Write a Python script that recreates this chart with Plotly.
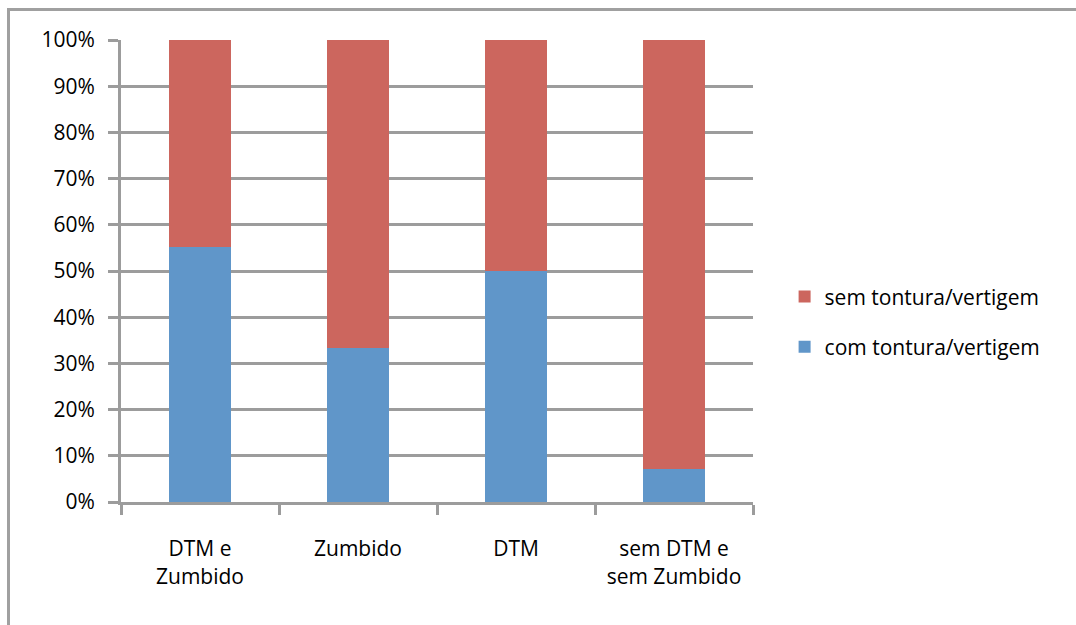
import plotly.graph_objects as go

categories = ["DTM e<br>Zumbido", "Zumbido", "DTM", "sem DTM e<br>sem Zumbido"]
com_tontura = [55.2, 33.3, 50.0, 7.1]
sem_tontura = [44.8, 66.7, 50.0, 92.9]
y_ticks = [0, 10, 20, 30, 40, 50, 60, 70, 80, 90, 100]
y_tick_labels = [f"{v}%" for v in y_ticks]

GRID = "#9c9c9c"
FONT = "Open Sans"

fig = go.Figure()
fig.add_trace(go.Bar(x=categories, y=com_tontura, name="com tontura/vertigem",
                     marker=dict(color="#6096C9", line=dict(width=0)),
                     legendgroup="a", legendrank=2))
fig.add_trace(go.Bar(x=categories, y=sem_tontura, name="sem tontura/vertigem",
                     marker=dict(color="#CC665E", line=dict(width=0)),
                     legendgroup="b", legendrank=1))

fig.update_layout(
    width=1076, height=625,
    barmode="stack", bargap=0.61,
    plot_bgcolor="white", paper_bgcolor="white",
    margin=dict(l=121, r=323, t=40, b=123),
    font=dict(family=FONT, size=21, color="black"),
    legend=dict(x=1.05, y=0.39, xanchor="left", yanchor="middle",
                traceorder="grouped", tracegroupgap=20,
                font=dict(size=21)),
    xaxis=dict(range=[-0.5, 3.5], showline=True, linecolor=GRID, linewidth=3,
               ticks="outside", ticklen=10, tickwidth=3, tickcolor=GRID,
               tickson="boundaries", showgrid=False, ticklabelstandoff=26,
               tickfont=dict(size=21)),
    yaxis=dict(range=[0, 100], tickvals=y_ticks, ticktext=y_tick_labels,
               showline=True, linecolor=GRID, linewidth=3,
               ticks="outside", ticklen=10, tickwidth=3, tickcolor=GRID,
               showgrid=True, gridcolor=GRID, gridwidth=3, zeroline=False,
               ticklabelstandoff=9, tickfont=dict(size=21)),
    shapes=[dict(type="rect", xref="paper", yref="paper",
                 x0=-0.178, x1=1.7, y0=-0.6, y1=1.066,
                 line=dict(color="#a0a0a0", width=3), layer="below")],
)

fig.write_html("out.html")
